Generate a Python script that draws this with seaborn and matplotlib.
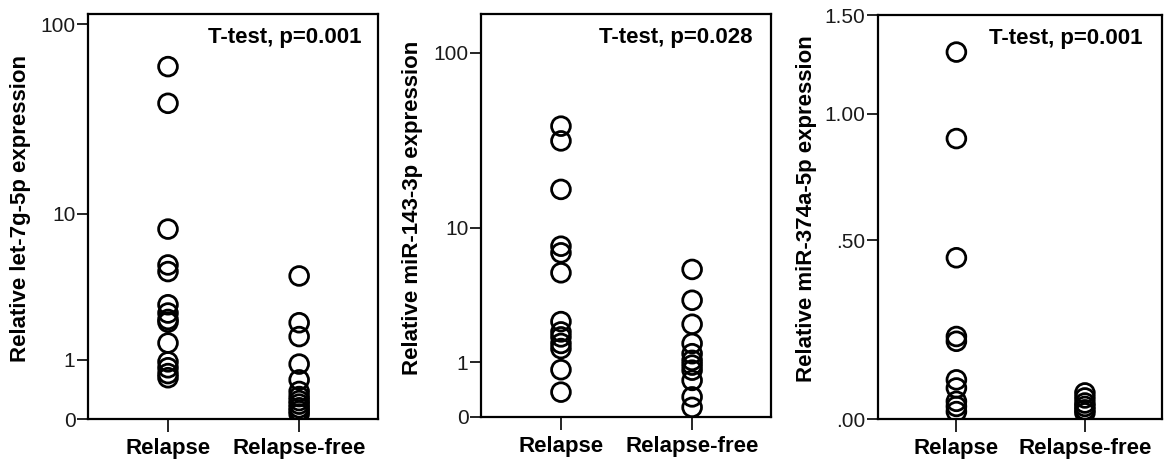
import seaborn as sns
import matplotlib.pyplot as plt
import pandas as pd
import numpy as np

# Group labels
groups = ["Relapse", "Relapse-free"]

# let-7g-5p relative expression
let7g_relapse = [60.4, 39.0, 8.2, 5.05, 4.6, 2.8, 2.45, 2.2, 2.1, 1.43, 0.95, 0.82, 0.7, 0.62]
let7g_free = [4.32, 2.08, 1.62, 0.90, 0.58, 0.38, 0.30, 0.24, 0.19, 0.14, 0.10, 0.06]

# miR-143-3p relative expression
mir143_relapse = [38.9, 32.1, 16.9, 7.71, 7.01, 5.22, 2.35, 1.94, 1.76, 1.54, 1.38, 0.82, 0.37]
mir143_free = [5.49, 3.39, 2.24, 1.54, 1.23, 1.05, 0.93, 0.81, 0.59, 0.29, 0.13]

# miR-374a-5p relative expression
mir374_relapse = [1.30, 0.89, 0.442, 0.206, 0.193, 0.093, 0.073, 0.041, 0.029, 0.017]
mir374_free = [0.061, 0.049, 0.037, 0.029, 0.021, 0.014]

panels = [
    ("Relative let-7g-5p expression", let7g_relapse, let7g_free,
     [0, 1, 10, 100], ["0", "1", "10", "100"], 112.7, "T-test, p=0.001"),
    ("Relative miR-143-3p expression", mir143_relapse, mir143_free,
     [0, 1, 10, 100], ["0", "1", "10", "100"], 164, "T-test, p=0.028"),
    ("Relative miR-374a-5p expression", mir374_relapse, mir374_free,
     [0, 0.5, 1.0, 1.5], [".00", ".50", "1.00", "1.50"], 1.503, "T-test, p=0.001"),
]

sns.set_style("ticks")
plt.rcParams['font.family'] = ['Liberation Sans', 'DejaVu Sans']
plt.rcParams['text.color'] = 'black'
plt.rcParams['axes.labelcolor'] = 'black'

fig = plt.figure(figsize=(11.64, 4.63), dpi=100)
rects = [
    [0.0756, 0.095, 0.249, 0.875],
    [0.4132, 0.0994, 0.249, 0.870],
    [0.7543, 0.095, 0.244, 0.873],
]
label_x = [-0.195, -0.20, -0.215]
note_x = [0.945, 0.938, 0.93]


def fwd(v):
    return np.log10(np.clip(v, -0.999, None) + 1)


def inv(v):
    return 10 ** v - 1


for i, (ylabel, rel, free, ticks, labels, ytop, note) in enumerate(panels):
    ax = fig.add_axes(rects[i])
    df = pd.DataFrame({
        "group": [groups[0]] * len(rel) + [groups[1]] * len(free),
        "value": rel + free,
    })
    sns.stripplot(data=df, x="group", y="value", order=groups, jitter=False,
                  size=13.5, facecolor="none", edgecolor="black",
                  linewidth=2.0, color="black", ax=ax, zorder=3)
    ax.set_yscale("function", functions=(fwd, inv))
    ax.set_ylim(0, ytop)
    ax.set_xlim(-0.61, 1.60)
    ax.set_yticks(ticks)
    ax.set_yticklabels(labels)
    ax.minorticks_off()
    ax.set_xlabel("")
    ax.set_ylabel(ylabel, fontsize=16, fontweight="bold", color="black")
    ax.yaxis.set_label_coords(label_x[i], 0.52)
    for lab in ax.get_xticklabels():
        lab.set_fontweight("bold")
    ax.tick_params(axis="x", labelsize=16, length=9, width=1.2, pad=5,
                   color="black", labelcolor="black")
    ax.tick_params(axis="y", labelsize=15, length=8, width=1.2, pad=1,
                   color="black", labelcolor="#1a1a1a")
    for sp in ax.spines.values():
        sp.set_visible(True)
        sp.set_linewidth(1.6)
        sp.set_color("black")
    ax.text(note_x[i], 0.968, note, transform=ax.transAxes, ha="right", va="top",
            fontsize=16, fontweight="bold", color="black")

fig.savefig("out.png", dpi=100)
